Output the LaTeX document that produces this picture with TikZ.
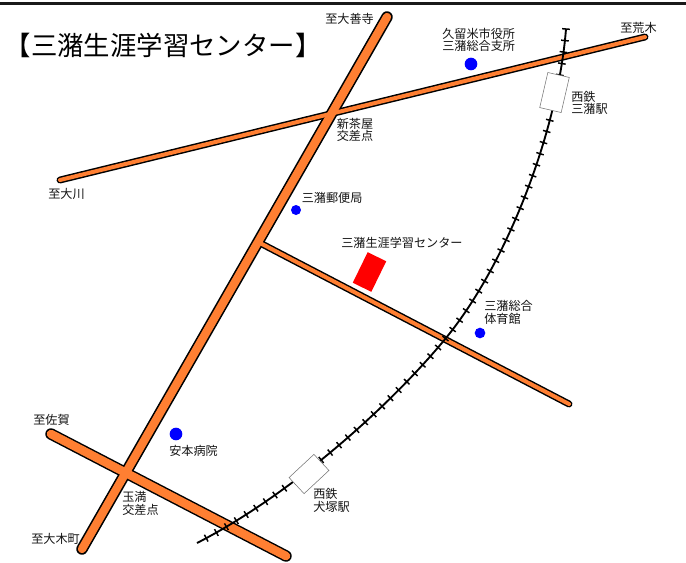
\documentclass[tikz,border=0pt]{standalone}
\usepackage{fontspec}
\setmainfont{Noto Sans CJK JP}
\usetikzlibrary{decorations.pathreplacing}
\definecolor{roadorange}{HTML}{FF7F32}
\definecolor{labelink}{HTML}{141414}
\tikzset{
  x=0.75pt,y=-0.75pt,
  lbl/.style={anchor=west,align=left,inner sep=0pt,text=labelink,font=\fontsize{9.1}{9.4}\selectfont},
  wideedge/.style={line width=8.6pt,line cap=round,draw=black},
  widefill/.style={line width=6.4pt,line cap=round,draw=roadorange},
  mainedge/.style={line width=8.6pt,line cap=round,draw=black},
  mainfill/.style={line width=6.2pt,line cap=round,draw=roadorange},
  thinedge/.style={line width=5.2pt,line cap=round,draw=black},
  thinfill/.style={line width=3pt,line cap=round,draw=roadorange},
  railline/.style={line width=1.4pt,draw=black},
  railticks/.style={line width=1.1pt,draw=black,decorate,
    decoration={ticks,segment length=8.7pt,amplitude=2.9pt}},
  stationbox/.style={draw=black!55,line width=0.4pt,fill=white,inner sep=0pt},
  dot/.style={circle,fill=blue,inner sep=0pt},
}
\begin{document}
\begin{tikzpicture}
\useasboundingbox (0,0) rectangle (686,562);
\fill[white] (0,0) rectangle (686,562);
\draw[line width=2.6pt,draw=black!90] (0,3.7) -- (686,3.7);

\coordinate (mainS) at (82,549);
\coordinate (mainN) at (387,17);
\coordinate (eastE) at (645,37);
\coordinate (eastW) at (60,180);
\coordinate (midW) at (262,244);
\coordinate (midE) at (569,404);
\coordinate (tamaW) at (51,434);
\coordinate (tamaE) at (286,556);

\draw[thinedge] (eastW) -- (eastE);
\draw[thinedge] (midW) -- (midE);
\draw[mainedge] (mainS) -- (mainN);
\draw[wideedge] (tamaW) -- (tamaE);
\draw[thinfill] (eastW) -- (eastE);
\draw[thinfill] (midW) -- (midE);
\draw[mainfill] (mainS) -- (mainN);
\draw[widefill] (tamaW) -- (tamaE);

\def\railpath{(566,29) .. controls (558,130) and (508,262) .. (446,338) .. controls (385,412) and (285,498) .. (197,543)}
\draw[railline] \railpath;
\draw[railticks] \railpath;

\node[stationbox,minimum width=16.5pt,minimum height=27pt,rotate=-13] (stnMizuma) at (554.5,92.5) {};
\node[stationbox,minimum width=25.5pt,minimum height=16.5pt,rotate=43] (stnInuzuka) at (309,474) {};
\node[fill=red,inner sep=0pt,minimum width=15.5pt,minimum height=25.5pt,rotate=-26] (center) at (369.5,272) {};

\node[dot,minimum size=9.5pt] (dotCity) at (471,64) {};
\node[dot,minimum size=7.5pt] (dotPost) at (296,210) {};
\node[dot,minimum size=8pt] (dotGym) at (480,333) {};
\node[dot,minimum size=9.5pt] (dotHosp) at (176,434) {};

\node[anchor=west,inner sep=0pt,text=black,font=\fontsize{19.8}{20}\selectfont] (title) at (4.5,45) {【三潴生涯学習センター】};
\node[lbl] (lZenji) at (325,19) {至大善寺};
\node[lbl] (lCity) at (442,40) {久留米市役所\\三潴総合支所};
\node[lbl] (lAraki) at (620,28) {至荒木};
\node[lbl] (lMizuma) at (571,103) {西鉄\\三潴駅};
\node[lbl] (lShin) at (336.5,130) {新茶屋\\交差点};
\node[lbl] (lOkawa) at (48,194) {至大川};
\node[lbl] (lPost) at (301.5,198) {三潴郵便局};
\node[lbl] (lCenter) at (341,243) {三潴生涯学習センター};
\node[lbl] (lGym) at (484,312.5) {三潴総合\\体育館};
\node[lbl] (lSaga) at (33,420) {至佐賀};
\node[lbl] (lHosp) at (169,451) {安本病院};
\node[lbl] (lTama) at (122,503.5) {玉満\\交差点};
\node[lbl] (lOki) at (31,539) {至大木町};
\node[lbl] (lInu) at (313,500.5) {西鉄\\犬塚駅};
\end{tikzpicture}
\end{document}
